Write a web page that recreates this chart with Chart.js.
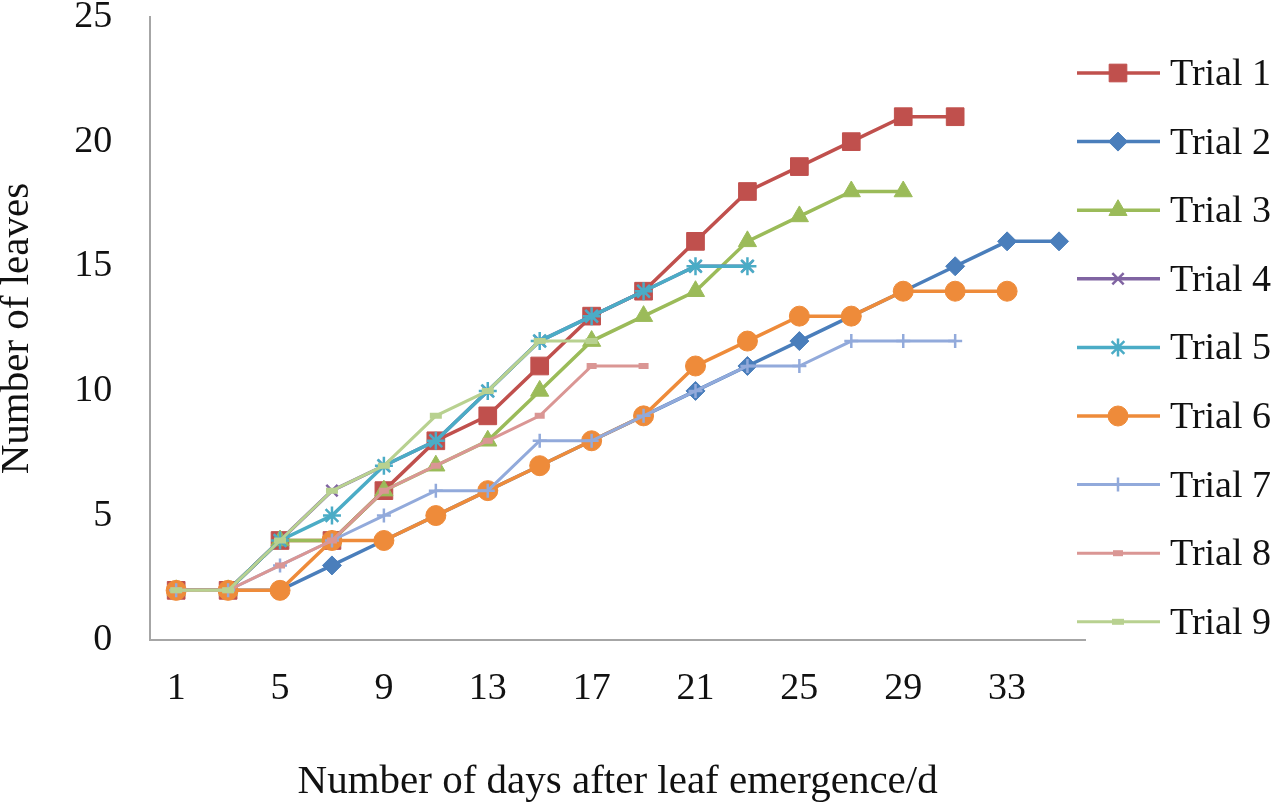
<!DOCTYPE html>
<html>
<head>
<meta charset="utf-8">
<title>Number of leaves</title>
<script src="https://cdn.jsdelivr.net/npm/chart.js"></script>
<style>
  html, body { margin: 0; padding: 0; background: #fff; }
  #wrap { width: 1280px; height: 807px; }
</style>
</head>
<body>
<div id="wrap"><canvas id="leafChart" width="1280" height="807"></canvas></div>
<script>
// days after leaf emergence (every 2nd one gets a tick label)
var days = [1, 3, 5, 7, 9, 11, 13, 15, 17, 19, 21, 23, 25, 27, 29, 31, 33, 35];

// number of leaves per trial
var trial1 = [2, 2, 4, 4, 6, 8, 9, 11, 13, 14, 16, 18, 19, 20, 21, 21];
var trial2 = [2, 2, 2, 3, 4, 5, 6, 7, 8, 9, 10, 11, 12, 13, 14, 15, 16, 16];
var trial3 = [2, 2, 4, 4, 6, 7, 8, 10, 12, 13, 14, 16, 17, 18, 18];
var trial4 = [2, 2, 4, 6, 7, 8, 10, 12, 13, 14, 15, 15];
var trial5 = [2, 2, 4, 5, 7, 8, 10, 12, 13, 14, 15, 15];
var trial6 = [2, 2, 2, 4, 4, 5, 6, 7, 8, 9, 11, 12, 13, 13, 14, 14, 14];
var trial7 = [2, 2, 3, 4, 5, 6, 6, 8, 8, 9, 10, 11, 11, 12, 12, 12];
var trial8 = [2, 2, 3, 4, 6, 7, 8, 9, 11, 11];
var trial9 = [2, 2, 4, 6, 7, 9, 10, 12, 12];

var yTicks = [0, 5, 10, 15, 20, 25];

var serif = "'Liberation Serif', 'Times New Roman', serif";

// one entry per series: name, data, colour, marker
var series = [
    { name: 'Trial 1', data: trial1, color: '#C0504D', style: 'rect', r: 12.5, bw: 1, lw: 3.5 },
    { name: 'Trial 2', data: trial2, color: '#4A7EBB', style: 'rectRot', r: 9.5, bw: 1, lw: 3.5 },
    { name: 'Trial 3', data: trial3, color: '#9BBB59', style: 'triangle', r: 10.5, bw: 1, lw: 3.5 },
    { name: 'Trial 4', data: trial4, color: '#8064A2', style: 'crossRot', r: 8, bw: 2.5, lw: 3.5 },
    { name: 'Trial 5', data: trial5, color: '#4BACC6', style: 'star', r: 9, bw: 2.5, lw: 3.5 },
    { name: 'Trial 6', data: trial6, color: '#EE8B3A', style: 'circle', r: 10, bw: 1, lw: 3.5 },
    { name: 'Trial 7', data: trial7, color: '#92AADB', style: 'cross', r: 7, bw: 2.5, lw: 3 },
    { name: 'Trial 8', data: trial8, color: '#DA9694', style: 'line', r: 5, bw: 6, lw: 3 },
    { name: 'Trial 9', data: trial9, color: '#B8D190', style: 'line', r: 6, bw: 6, lw: 3 }
];

var datasets = series.map(function(s, i) {
    return {
        label: s.name,
        data: s.data,
        borderColor: s.color,
        backgroundColor: s.color,
        borderWidth: s.lw,
        pointStyle: s.style,
        pointRadius: s.r,
        pointBorderWidth: s.bw,
        pointBackgroundColor: s.color,
        pointBorderColor: s.color,
        fill: false,
        tension: 0,
        order: series.length - i // later trials drawn on top, like Excel
    };
});

// legend on the right: line with marker in the middle, then the name
var lineLegend = {
    id: 'lineLegend',
    afterDraw: function(chart) {
        var ctx = chart.ctx;
        var x0 = 1077, x1 = 1160, xm = 1118, xt = 1170;
        ctx.save();
        series.forEach(function(s, i) {
            var y = 73 + i * 68.6;
            ctx.strokeStyle = s.color;
            ctx.fillStyle = s.color;
            ctx.lineWidth = s.lw;
            ctx.beginPath();
            ctx.moveTo(x0, y);
            ctx.lineTo(x1, y);
            ctx.stroke();
            ctx.lineWidth = s.bw;
            if (Chart.helpers && Chart.helpers.drawPoint) {
                Chart.helpers.drawPoint(ctx, { pointStyle: s.style, radius: s.r, borderWidth: s.bw, rotation: 0 }, xm, y);
            }
            ctx.fillStyle = '#111';
            ctx.font = '38px ' + serif;
            ctx.textAlign = 'left';
            ctx.textBaseline = 'middle';
            ctx.fillText(s.name, xt, y + 2);
        });
        ctx.restore();
    }
};

var ctx = document.getElementById('leafChart').getContext('2d');
var leafChart = new Chart(ctx, {
    type: 'line',
    data: { labels: days, datasets: datasets },
    options: {
        responsive: false,
        animation: false,
        devicePixelRatio: 1,
        layout: { padding: { top: 0, right: 195, bottom: 0, left: 0 } },
        plugins: {
            legend: { display: false },
            tooltip: { enabled: false }
        },
        scales: {
            x: {
                offset: true,
                grid: { display: false, drawTicks: false },
                border: { display: true, color: '#A6A6A6', width: 2 },
                ticks: {
                    color: '#111',
                    font: { family: serif, size: 38 },
                    padding: 26,
                    autoSkip: false,
                    maxRotation: 0,
                    callback: function(value, index) {
                        return index % 2 === 0 ? days[index] : '';
                    }
                },
                title: {
                    display: true,
                    text: 'Number of days after leaf emergence/d',
                    color: '#111',
                    font: { family: serif, size: 41 },
                    padding: { top: 20, bottom: 0 }
                }
            },
            y: {
                min: 0,
                max: 25,
                grid: { display: false, drawTicks: false },
                border: { display: true, color: '#A6A6A6', width: 2 },
                afterBuildTicks: function(axis) {
                    axis.ticks = yTicks.map(function(v) { return { value: v }; });
                },
                // the tick padding is also added above the axis; keep the plot close to the top
                afterFit: function(axis) {
                    axis.paddingTop = 17;
                    axis.paddingBottom = 16;
                },
                ticks: {
                    color: '#111',
                    font: { family: serif, size: 38, lineHeight: 0.85 },
                    padding: 38
                },
                title: {
                    display: true,
                    text: 'Number of leaves',
                    color: '#111',
                    font: { family: serif, size: 41 },
                    padding: { top: -7, bottom: -6 }
                }
            }
        }
    },
    plugins: [lineLegend]
});
</script>
</body>
</html>
